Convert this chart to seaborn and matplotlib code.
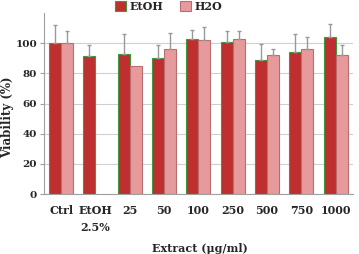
import matplotlib
matplotlib.use("Agg")
import matplotlib.pyplot as plt
import seaborn as sns
import pandas as pd
import numpy as np
from matplotlib.patches import Patch

categories = ["Ctrl", "EtOH\n2.5%", "25", "50", "100", "250", "500", "750", "1000"]
etoh_vals = [100, 91.5, 93, 90, 102.5, 101, 88.7, 94, 104]
etoh_err = [12, 7.5, 13, 8.5, 6.5, 7, 11, 12, 8.6]
h2o_vals = [100, np.nan, 85, 96, 102, 103, 92, 96, 92]
h2o_err = [8, np.nan, 11, 9, 5, 4, 8, 7, 9]
series = ["EtOH", "H2O"]
yticks = [0, 20, 40, 60, 80, 100]

rows = []
for i, c in enumerate(categories):
    rows.append({"cat": c, "series": "EtOH", "val": etoh_vals[i], "err": etoh_err[i]})
    rows.append({"cat": c, "series": "H2O", "val": h2o_vals[i], "err": h2o_err[i]})
df = pd.DataFrame(rows)

sns.set_theme(style="white")
plt.rcParams["font.family"] = ["DejaVu Serif"]
plt.rcParams["font.weight"] = "bold"

fig = plt.figure(figsize=(3.59, 2.54), dpi=100)
ax = fig.add_axes([0.1226, 0.236, 0.8604, 0.713])

colors = {"EtOH": "#bf2f30", "H2O": "#e69a9c"}
sns.barplot(data=df, x="cat", y="val", hue="series", hue_order=series,
            palette=colors, order=categories, width=0.7, errorbar=None,
            ax=ax, legend=False, saturation=1)

edge = {"EtOH": "#3c9a3c", "H2O": "#b86e70"}
for container, s in zip(ax.containers, series):
    errs = df[df.series == s]["err"].values
    for patch, e in zip(container.patches, errs):
        patch.set_edgecolor(edge[s])
        patch.set_linewidth(0.8)
        h = patch.get_height()
        if np.isnan(h) or np.isnan(e):
            continue
        xc = patch.get_x() + patch.get_width() / 2
        ax.errorbar([xc], [h], yerr=[[0], [e]], fmt="none", ecolor="#999999",
                    elinewidth=1.0, capsize=1.5, capthick=1.0, zorder=1)

ax.set_ylim(0, 120)
ax.set_xlim(-0.5, len(categories) - 0.5)
ax.set_yticks(yticks)
ax.yaxis.grid(True, color="#d0d0d0", linewidth=0.8)
ax.set_axisbelow(True)
for sp in ["top", "right"]:
    ax.spines[sp].set_visible(False)
for sp in ["left", "bottom"]:
    ax.spines[sp].set_color("#a0a0a0")
    ax.spines[sp].set_linewidth(0.8)

ax.set_xticks(np.arange(-0.5, len(categories), 1.0), minor=True)
ax.tick_params(axis="x", which="major", length=0, pad=8, labelsize=8)
ax.tick_params(axis="x", which="minor", length=3, color="#a0a0a0", width=0.8)
ax.tick_params(axis="y", which="major", length=3, color="#a0a0a0", width=0.8,
               left=True, labelsize=7.5, pad=2)
for t in ax.get_xticklabels():
    t.set_fontweight("bold")
    t.set_linespacing(1.7)
for t in ax.get_yticklabels():
    t.set_fontweight("bold")

ax.set_xlabel("Extract (\u03bcg/ml)", fontsize=8, fontweight="bold")
ax.xaxis.set_label_coords(0.505, -0.27)
ax.set_ylabel("Viability (%)", fontsize=8.5, fontweight="bold")
ax.yaxis.set_label_coords(-0.098, 0.425)

handles = [Patch(facecolor=colors[s], edgecolor=edge[s], linewidth=0.8) for s in series]
fig.legend(handles, series, loc="upper center", bbox_to_anchor=(0.47, 1.035), ncol=2,
           frameon=False, handlelength=1.0, handleheight=1.0,
           handletextpad=0.3, columnspacing=1.5, prop={"weight": "bold", "size": 8})

fig.savefig("out.png", dpi=100)
